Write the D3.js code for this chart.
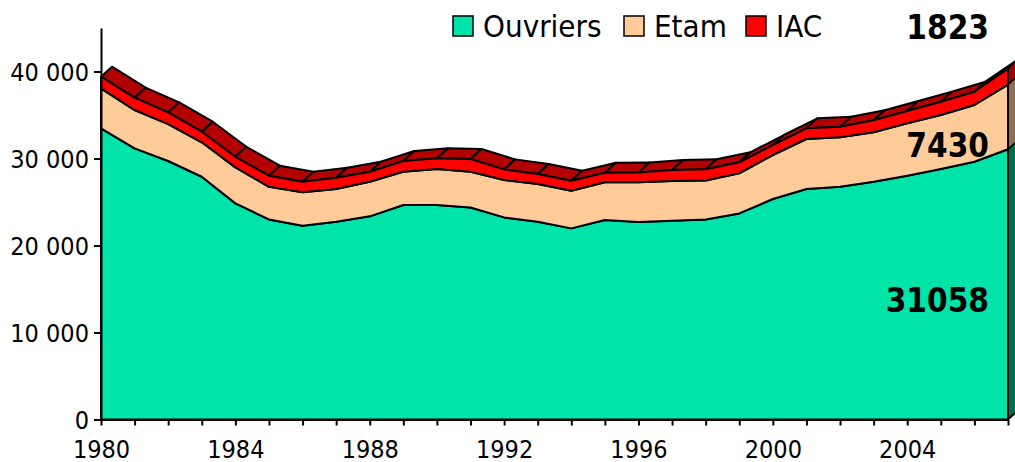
<!DOCTYPE html>
<html>
<head>
<meta charset="utf-8">
<script src="https://cdn.jsdelivr.net/npm/d3@7"></script>
<style>
  body { margin: 0; background: #fff; }
  svg { display: block; font-family: "DejaVu Sans Condensed", "DejaVu Sans", sans-serif; font-stretch: condensed; }
</style>
</head>
<body>
<div id="chart"></div>
<script>
// --- data ---
const years = [1980, 1981, 1982, 1983, 1984, 1985, 1986, 1987, 1988, 1989,
               1990, 1991, 1992, 1993, 1994, 1995, 1996, 1997, 1998, 1999,
               2000, 2001, 2002, 2003, 2004, 2005, 2006, 2007];
const ouvriers = [33470, 31170, 29710, 27900, 24840, 23000, 22270, 22730, 23350, 24650,
                  24650, 24370, 23230, 22730, 21970, 22920, 22690, 22840, 22980, 23690,
                  25340, 26490, 26750, 27330, 28020, 28790, 29630, 31058];
const etam = [4600, 4400, 4250, 3960, 4140, 3750, 3840, 3760, 3980, 3830,
              4140, 4110, 4290, 4330, 4320, 4340, 4570, 4570, 4480, 4600,
              5060, 5750, 5680, 5680, 6020, 6210, 6520, 7430];
const iac = [1330, 1420, 1350, 1220, 1220, 1270, 1220, 1300, 1150, 1230,
             1230, 1460, 1230, 1150, 1150, 1100, 1140, 1260, 1310, 1270,
             1150, 1230, 1220, 1380, 1420, 1530, 1530, 1823];
const seriesNames = ["Ouvriers", "Etam", "IAC"];
const yTicks = [0, 10000, 20000, 30000, 40000];
const xLabelYears = [1980, 1984, 1988, 1992, 1996, 2000, 2004];

const frontColors = ["#00e4aa", "#ffcc99", "#ff0000"];
const sideColors = ["#006e52", "#8c6e50", "#a30000"];
const topColor = "#b30000";

const width = 1015, height = 462;
const margin = { top: 28, right: 7, bottom: 42.5, left: 101 };
const depth = { dx: 11, dy: -10 };

const svg = d3.select("#chart")
    .append("svg")
    .attr("width", width)
    .attr("height", height);

const x = d3.scaleLinear().domain([1980, 2007]).range([margin.left, width - margin.right]);
const y = d3.scaleLinear().domain([0, 45000]).range([height - margin.bottom, margin.top]);

const table = years.map((yr, i) => ({ year: yr, Ouvriers: ouvriers[i], Etam: etam[i], IAC: iac[i] }));
const stacked = d3.stack().keys(seriesNames)(table);
const n = years.length;

// top face of the upper series, one slab per year
const topLayer = stacked[stacked.length - 1];
const topFaces = [];
for (let i = 0; i < n - 1; i++) {
    const a = [x(years[i]), y(topLayer[i][1])];
    const b = [x(years[i + 1]), y(topLayer[i + 1][1])];
    topFaces.push([a, b, [b[0] + depth.dx, b[1] + depth.dy], [a[0] + depth.dx, a[1] + depth.dy]]);
}
svg.append("g")
    .selectAll("path")
    .data(topFaces)
    .enter()
    .append("path")
    .attr("d", d => "M" + d.join("L") + "Z")
    .attr("fill", topColor)
    .attr("stroke", "#000")
    .attr("stroke-width", 2)
    .attr("stroke-linejoin", "round");

// right side faces
const xe = x(years[n - 1]);
svg.append("g")
    .selectAll("path")
    .data(stacked)
    .enter()
    .append("path")
    .attr("d", s => {
        const d = s[n - 1];
        const p = [[xe, y(d[0])], [xe, y(d[1])],
                   [xe + depth.dx, y(d[1]) + depth.dy], [xe + depth.dx, y(d[0]) + depth.dy]];
        return "M" + p.join("L") + "Z";
    })
    .attr("fill", (s, i) => sideColors[i])
    .attr("stroke", "#000")
    .attr("stroke-width", 1.5)
    .attr("stroke-linejoin", "round");

// front faces
const area = d3.area()
    .x(d => x(d.data.year))
    .y0(d => y(d[0]))
    .y1(d => y(d[1]));

svg.append("g")
    .selectAll("path")
    .data(stacked)
    .enter()
    .append("path")
    .attr("d", area)
    .attr("fill", (s, i) => frontColors[i])
    .attr("stroke", "#000")
    .attr("stroke-width", 2)
    .attr("stroke-linejoin", "round");

// axes
const fr = d3.formatLocale({ decimal: ",", thousands: " ", grouping: [3], currency: ["", ""] });
const yAxis = d3.axisLeft(y).tickValues(yTicks).tickFormat(fr.format(",")).tickSize(7).tickSizeOuter(0).tickPadding(5);
const xAxis = d3.axisBottom(x).tickValues(years)
    .tickFormat(d => xLabelYears.includes(d) ? d : "")
    .tickSize(6).tickSizeOuter(0).tickPadding(15);

const gy = svg.append("g")
    .attr("transform", `translate(${margin.left},0)`)
    .call(yAxis);
const gx = svg.append("g")
    .attr("transform", `translate(0,${height - margin.bottom})`)
    .call(xAxis);

[gx, gy].forEach(g => {
    g.selectAll("path, line").attr("stroke", "#000").attr("stroke-width", 2);
    g.selectAll("text")
        .attr("fill", "#000")
        .style("font-family", '"DejaVu Sans Condensed", "DejaVu Sans", sans-serif')
        .style("font-size", "25px");
});
gy.selectAll("text").attr("dy", "0.36em");

// floor edge at the back right
svg.append("line")
    .attr("x1", xe).attr("y1", y(0))
    .attr("x2", xe + depth.dx).attr("y2", y(0) + depth.dy)
    .attr("stroke", "#000").attr("stroke-width", 1.5);

// legend
const legendX = [453, 624, 746];
const legend = svg.append("g")
    .selectAll("g")
    .data(seriesNames)
    .enter()
    .append("g")
    .attr("transform", (d, i) => `translate(${legendX[i]},16)`);
legend.append("rect")
    .attr("width", 20).attr("height", 20)
    .attr("fill", (d, i) => frontColors[i])
    .attr("stroke", "#000").attr("stroke-width", 1.5);
legend.append("text")
    .attr("x", 30).attr("y", 21)
    .style("font-size", "31px")
    .attr("fill", "#000")
    .text(d => d);

// last-value labels
const lastLabels = [
    { text: ouvriers[n - 1], y: 311.5 },
    { text: etam[n - 1], y: 157 },
    { text: iac[n - 1], y: 39 }
];
svg.append("g")
    .selectAll("text")
    .data(lastLabels)
    .enter()
    .append("text")
    .attr("x", xe - 19)
    .attr("y", d => d.y)
    .attr("text-anchor", "end")
    .style("font-size", "33px")
    .style("font-weight", "bold")
    .attr("fill", "#000")
    .text(d => d.text);
</script>
</body>
</html>
